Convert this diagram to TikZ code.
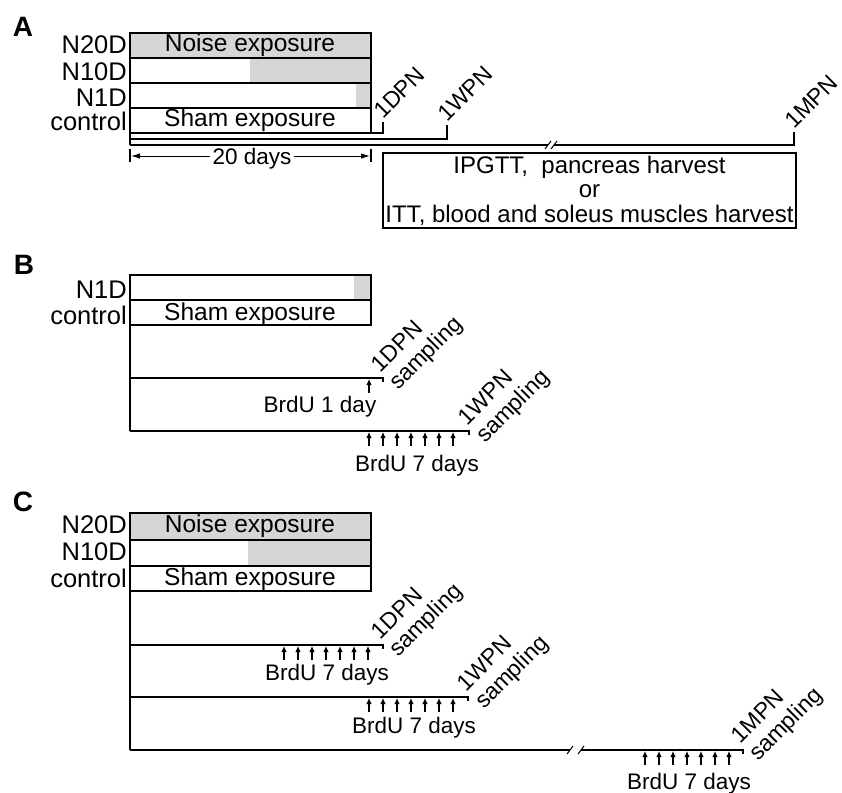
\documentclass[tikz,border=0pt]{standalone}
\usepackage{fontspec}
\setmainfont{Liberation Sans}
\usetikzlibrary{arrows.meta}

\begin{document}
\begin{tikzpicture}[
      x=1pt, y=-1pt,
      every node/.style={inner sep=0pt},
      txt/.style={font=\fontsize{22.5}{25}\selectfont},
      rowtxt/.style={font=\fontsize{24.5}{26}\selectfont, anchor=base},
      grp/.style={font=\fontsize{25.5}{27}\selectfont, anchor=base east},
      panel/.style={font=\fontsize{28}{30}\selectfont\bfseries},
      noise/.style={fill=black!16},
      row/.style={draw, line width=1.3pt},
      tl/.style={line width=1.4pt},
      inj/.style={-{Latex[length=6pt,width=5.5pt]}, line width=1.1pt},
      dim/.style={-{Latex[length=9pt,width=5.5pt]}, line width=1pt},
      brk/.style={line width=1pt},
      stamp/.style={font=\fontsize{23}{25}\selectfont, rotate=45,
                    anchor=base west, align=left}
    ]
    \useasboundingbox (0,0) rectangle (842,792);

    % Panel A
    \node[panel] (pA) at (23,27) {A};
    \fill[noise] (130,33) rectangle (371,58);
    \fill[noise] (250,58) rectangle (371,83);
    \fill[noise] (356,83) rectangle (371,108);
    \foreach \t in {33,58,83,108}
      \draw[row] (130,\t) rectangle (371,\t+25);
    \node[grp] (a20) at (127,53) {N20D};
    \node[grp] (a10) at (127,80) {N10D};
    \node[grp] (a1) at (127,106) {N1D};
    \node[grp] (actl) at (127,130) {control};
    \node[rowtxt] (anoise) at (250,52) {Noise exposure};
    \node[rowtxt] (asham) at (250,126) {Sham exposure};
    % time lines
    \draw[tl] (130,33) -- (130,145);
    \draw[tl] (130,133) -- (383,133) -- (383,122);
    \draw[tl] (130,139) -- (447,139) -- (447,125);
    \draw[tl] (130,145) -- (548,145);
    \draw[tl] (554,145) -- (794,145) -- (794,132);
    \draw[brk] (545,149) -- (551,141);
    \draw[brk] (551,149) -- (557,141);
    \node[stamp] (a1dpn) at (383,120) {1DPN};
    \node[stamp] (a1wpn) at (447,123) {1WPN};
    \node[stamp] (a1mpn) at (794,130) {1MPN};
    % 20 days
    \draw[tl] (130,149) -- (130,162);
    \draw[tl] (371,149) -- (371,162);
    \node[txt, anchor=base, inner sep=2pt] (d20) at (252,164) {20 days};
    \draw[dim] (d20.west |- 0,156) -- (131,156);
    \draw[dim] (d20.east |- 0,156) -- (370,156);
    \node[draw, line width=1.3pt, font=\fontsize{24}{24.5}\selectfont,
          align=center, minimum width=413pt, minimum height=75pt]
          (harv) at (589.5,190.5)
          {IPGTT,\ \ pancreas harvest\\or\\ITT, blood and soleus muscles harvest};

    % Panel B
    \node[panel] (pB) at (24,265) {B};
    \fill[noise] (354,275) rectangle (371,300);
    \draw[row] (130,275) rectangle (371,300);
    \draw[row] (130,300) rectangle (371,325);
    \node[grp] (b1) at (127,298) {N1D};
    \node[grp] (bctl) at (127,324) {control};
    \node[rowtxt] (bsham) at (250,320) {Sham exposure};
    \draw[tl] (130,275) -- (130,431);
    \draw[tl] (130,378) -- (383,378) -- (383,382);
    \draw[tl] (130,431) -- (469,431) -- (469,435);
    \draw[inj] (369,393) -- (369,379);
    \foreach \i in {0,...,6}
      \draw[inj] (369+14*\i,446) -- (369+14*\i,432);
    \node[txt, anchor=base] (bbrdu1) at (320,412) {BrdU 1 day};
    \node[txt, anchor=base] (bbrdu7) at (417,471) {BrdU 7 days};
    \node[stamp] (b1dpn) at (398,391) {1DPN\\sampling};
    \node[stamp] (b1wpn) at (485,444) {1WPN\\sampling};

    % Panel C
    \node[panel] (pC) at (23,502) {C};
    \fill[noise] (130,513) rectangle (371,540);
    \fill[noise] (248,540) rectangle (371,566);
    \draw[row] (130,513) rectangle (371,540);
    \draw[row] (130,540) rectangle (371,566);
    \draw[row] (130,566) rectangle (371,591);
    \node[grp] (c20) at (127,533) {N20D};
    \node[grp] (c10) at (127,560) {N10D};
    \node[grp] (cctl) at (127,587) {control};
    \node[rowtxt] (cnoise) at (250,532) {Noise exposure};
    \node[rowtxt] (csham) at (250,585) {Sham exposure};
    \draw[tl] (130,513) -- (130,750);
    \draw[tl] (130,645) -- (383,645) -- (383,649);
    \draw[tl] (130,697) -- (468,697) -- (468,701);
    \draw[tl] (130,750) -- (570,750);
    \draw[tl] (581,750) -- (743,750) -- (743,754);
    \draw[brk] (567,754) -- (573,746);
    \draw[brk] (578,754) -- (584,746);
    \foreach \i in {0,...,6} {
      \draw[inj] (284+14*\i,660) -- (284+14*\i,646);
      \draw[inj] (369+14*\i,712) -- (369+14*\i,698);
      \draw[inj] (645+14*\i,765) -- (645+14*\i,751);
    }
    \node[txt, anchor=base] (cbrdu1) at (327,680) {BrdU 7 days};
    \node[txt, anchor=base] (cbrdu2) at (414,733) {BrdU 7 days};
    \node[txt, anchor=base] (cbrdu3) at (689,789) {BrdU 7 days};
    \node[stamp] (c1dpn) at (398,658) {1DPN\\sampling};
    \node[stamp] (c1wpn) at (484,710) {1WPN\\sampling};
    \node[stamp] (c1mpn) at (758,762) {1MPN\\sampling};
  \end{tikzpicture}
\end{document}
